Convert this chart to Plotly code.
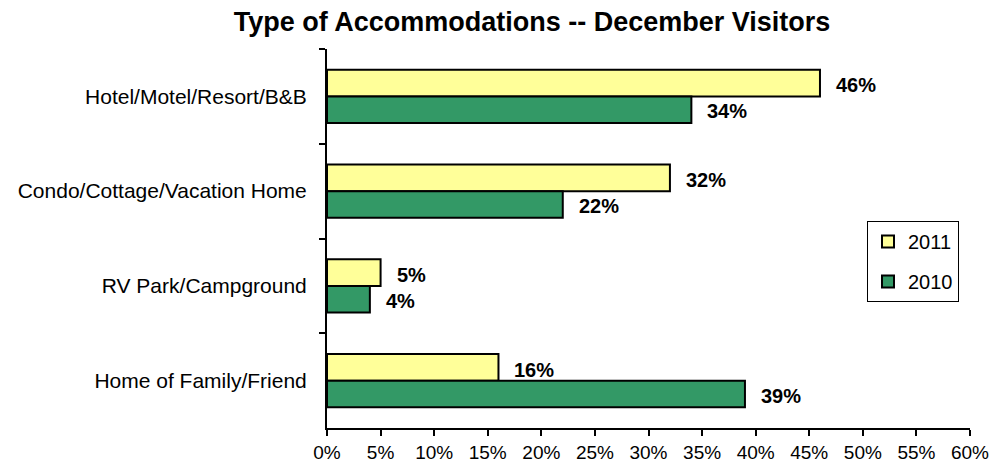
import plotly.graph_objects as go

categories = ["Hotel/Motel/Resort/B&B", "Condo/Cottage/Vacation Home", "RV Park/Campground", "Home of Family/Friend"]
values_2011 = [46, 32, 5, 16]
values_2010 = [34, 22, 4, 39]
x_ticks = [0, 5, 10, 15, 20, 25, 30, 35, 40, 45, 50, 55, 60]
x_tick_labels = [f"{v}%" for v in x_ticks]

fig = go.Figure()
fig.add_trace(go.Bar(y=categories, x=values_2011, name="2011", orientation="h", legendgroup="a",
                     marker=dict(color="#FFFF99", line=dict(color="black", width=2))))
fig.add_trace(go.Bar(y=categories, x=values_2010, name="2010", orientation="h", legendgroup="b",
                     marker=dict(color="#339966", line=dict(color="black", width=2))))

for cat, v in zip(categories, values_2011):
    fig.add_annotation(x=v, y=cat, text=f"<b>{v}%</b>", showarrow=False, xanchor="left",
                       xshift=14, yshift=11, font=dict(family="Arial", size=20, color="black"))
for cat, v in zip(categories, values_2010):
    fig.add_annotation(x=v, y=cat, text=f"<b>{v}%</b>", showarrow=False, xanchor="left",
                       xshift=14, yshift=-15, font=dict(family="Arial", size=20, color="black"))

L, R, T, B = 327, 970, 49, 428
fig.update_layout(
    width=992, height=463,
    margin=dict(l=L, r=992 - R, t=T, b=463 - B, autoexpand=False),
    paper_bgcolor="white", plot_bgcolor="white",
    barmode="group", bargap=0.44, bargroupgap=0,
    font=dict(family="Arial", size=20, color="black"),
    title=dict(text="<b>Type of Accommodations -- December Visitors</b>", x=532/992, xanchor="center",
               y=1 - 22/463, yanchor="middle", font=dict(family="Arial", size=27, color="black")),
    legend=dict(x=(867 - L) / (R - L), y=(B - 221) / (B - T), xanchor="left", yanchor="top",
                bordercolor="black", borderwidth=1, bgcolor="white", traceorder="grouped",
                font=dict(family="Arial", size=20), itemwidth=30, tracegroupgap=11),
    showlegend=True,
)

fig.update_xaxes(range=[0, 60], tickvals=x_ticks, ticktext=x_tick_labels, showgrid=False, automargin=False,
                 showline=True, linecolor="black", linewidth=2, ticks="outside", ticklen=6,
                 tickwidth=2, tickcolor="black", zeroline=False, tickfont=dict(size=19))
fig.update_yaxes(autorange="reversed", showgrid=False, showline=True, linecolor="black", linewidth=2,
                 automargin=False, ticks="outside", tickson="boundaries", ticklen=6, tickwidth=2,
                 tickcolor="black", ticklabelstandoff=14, tickfont=dict(size=21))

fig.write_html("out.html", config={"displayModeBar": False},
               post_script="document.body.style.margin='0';document.body.style.overflow='hidden';")
